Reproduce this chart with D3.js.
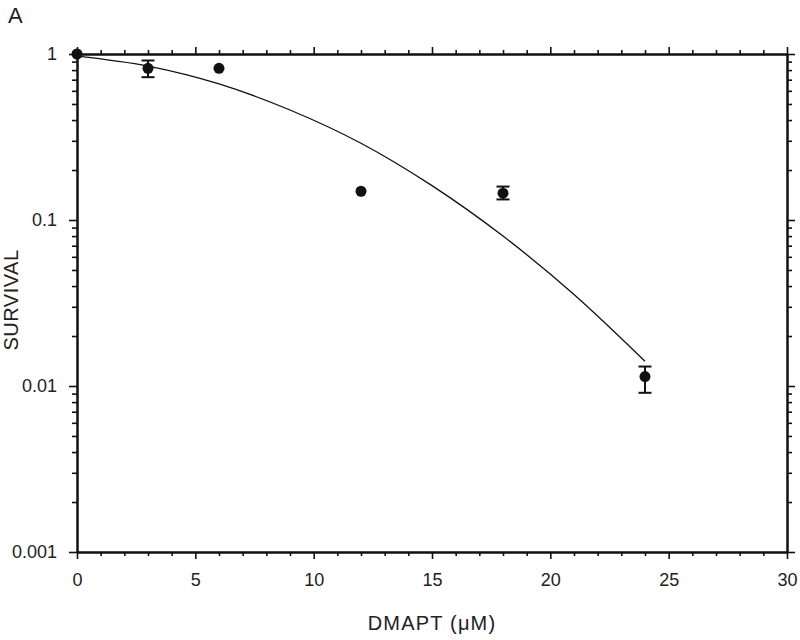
<!DOCTYPE html>
<html>
<head>
<meta charset="utf-8">
<script src="https://cdn.jsdelivr.net/npm/d3@7"></script>
<style>
  body { margin: 0; background: #fff; }
  text { font-family: "Liberation Sans", Arial, sans-serif; fill: #222; }
</style>
</head>
<body>
<div id="chart"></div>
<script>
// Measured survival
const doses = [0, 3, 6, 12, 18, 24];
const survival = [1.0, 0.82, 0.82, 0.149, 0.145, 0.0114];
const errLow = [null, 0.725, null, null, 0.133, 0.0091];
const errHigh = [null, 0.914, null, null, 0.159, 0.0131];

// Fitted curve
const fitDoses = [0, 3, 6, 9, 12, 15, 18, 21, 24];
const fitSurvival = [0.97, 0.845, 0.66, 0.46, 0.29, 0.161, 0.08, 0.0356, 0.0141];

// Ticks
const xTicks = [0, 5, 10, 15, 20, 25, 30];
const yTicks = [0.001, 0.01, 0.1, 1];
const yTickLabels = ["0.001", "0.01", "0.1", "1"];

const width = 800,
    height = 640;
const margin = { top: 54, right: 13, bottom: 88, left: 77 };

const svg = d3
    .select("#chart")
    .append("svg")
    .attr("width", width)
    .attr("height", height);

const x = d3
    .scaleLinear()
    .domain([0, 30])
    .range([margin.left, width - margin.right]);

const y = d3
    .scaleLog()
    .domain([0.001, 1])
    .range([height - margin.bottom, margin.top]);

// minor tick values
const xMinor = d3.range(0, 31, 1).filter((d) => d % 5 !== 0);
const yMinor = [];
[0.001, 0.01, 0.1].forEach((p) => {
    for (let k = 2; k <= 9; k++) yMinor.push(p * k);
});

function styleAxis(g) {
    g.select(".domain").attr("stroke", "#111").attr("stroke-width", 2);
    g.selectAll(".tick line").attr("stroke", "#111").attr("stroke-width", 1.6);
    g.selectAll(".tick text").style("font-size", "18px");
}

const bottomY = y.range()[0],
    topY = y.range()[1];
const leftX = x.range()[0],
    rightX = x.range()[1];

// bottom axis
svg.append("g")
    .attr("transform", `translate(0,${bottomY})`)
    .call(d3.axisBottom(x).tickValues(xMinor).tickSize(4).tickSizeOuter(0).tickFormat(""))
    .call(styleAxis);
svg.append("g")
    .attr("transform", `translate(0,${bottomY})`)
    .call(d3.axisBottom(x).tickValues(xTicks).tickSize(7).tickSizeOuter(0).tickPadding(14))
    .call(styleAxis);

// top axis
svg.append("g")
    .attr("transform", `translate(0,${topY})`)
    .call(d3.axisTop(x).tickValues(xMinor).tickSize(4).tickSizeOuter(0).tickFormat(""))
    .call(styleAxis);
svg.append("g")
    .attr("transform", `translate(0,${topY})`)
    .call(d3.axisTop(x).tickValues(xTicks).tickSize(7).tickSizeOuter(0).tickFormat(""))
    .call(styleAxis);

// left axis
svg.append("g")
    .attr("transform", `translate(${leftX},0)`)
    .call(d3.axisLeft(y).tickValues(yMinor).tickSize(5).tickSizeOuter(0).tickFormat(""))
    .call(styleAxis);
svg.append("g")
    .attr("transform", `translate(${leftX},0)`)
    .call(
        d3.axisLeft(y)
            .tickValues(yTicks)
            .tickSize(8)
            .tickSizeOuter(0)
            .tickPadding(12)
            .tickFormat((d, i) => yTickLabels[i]),
    )
    .call(styleAxis);

// right axis
svg.append("g")
    .attr("transform", `translate(${rightX},0)`)
    .call(d3.axisRight(y).tickValues(yMinor).tickSize(5).tickSizeOuter(0).tickFormat(""))
    .call(styleAxis);
svg.append("g")
    .attr("transform", `translate(${rightX},0)`)
    .call(d3.axisRight(y).tickValues(yTicks).tickSize(8).tickSizeOuter(0).tickFormat(""))
    .call(styleAxis);

// fitted curve
svg.append("path")
    .datum(fitDoses.map((d, i) => [d, fitSurvival[i]]))
    .attr("fill", "none")
    .attr("stroke", "#111")
    .attr("stroke-width", 1.3)
    .attr(
        "d",
        d3.line()
            .x((d) => x(d[0]))
            .y((d) => y(d[1]))
            .curve(d3.curveMonotoneX),
    );

// error bars
const points = doses.map((d, i) => ({
    dose: d,
    s: survival[i],
    lo: errLow[i],
    hi: errHigh[i],
}));
const withErr = points.filter((p) => p.lo !== null);
const cap = 6.5;

const eb = svg.append("g").attr("stroke", "#111").attr("stroke-width", 2);
eb.selectAll(".stem")
    .data(withErr)
    .join("line")
    .attr("x1", (d) => x(d.dose))
    .attr("x2", (d) => x(d.dose))
    .attr("y1", (d) => y(d.lo))
    .attr("y2", (d) => y(d.hi));
eb.selectAll(".capLo")
    .data(withErr)
    .join("line")
    .attr("x1", (d) => x(d.dose) - cap)
    .attr("x2", (d) => x(d.dose) + cap)
    .attr("y1", (d) => y(d.lo))
    .attr("y2", (d) => y(d.lo));
eb.selectAll(".capHi")
    .data(withErr)
    .join("line")
    .attr("x1", (d) => x(d.dose) - cap)
    .attr("x2", (d) => x(d.dose) + cap)
    .attr("y1", (d) => y(d.hi))
    .attr("y2", (d) => y(d.hi));

// points
svg.append("g")
    .selectAll("circle")
    .data(points)
    .join("circle")
    .attr("cx", (d) => x(d.dose))
    .attr("cy", (d) => y(d.s))
    .attr("r", 5.5)
    .attr("fill", "#111");

// labels
svg.append("text")
    .attr("x", (leftX + rightX) / 2)
    .attr("y", 630)
    .attr("text-anchor", "middle")
    .style("font-size", "20px")
    .style("letter-spacing", "1.2px")
    .text("DMAPT (μM)");

svg.append("text")
    .attr("transform", `translate(18,300) rotate(-90)`)
    .attr("text-anchor", "middle")
    .style("font-size", "20px")
    .style("letter-spacing", "0.5px")
    .text("SURVIVAL");

svg.append("text")
    .attr("x", 8)
    .attr("y", 23)
    .style("font-size", "22px")
    .text("A");
</script>
</body>
</html>
